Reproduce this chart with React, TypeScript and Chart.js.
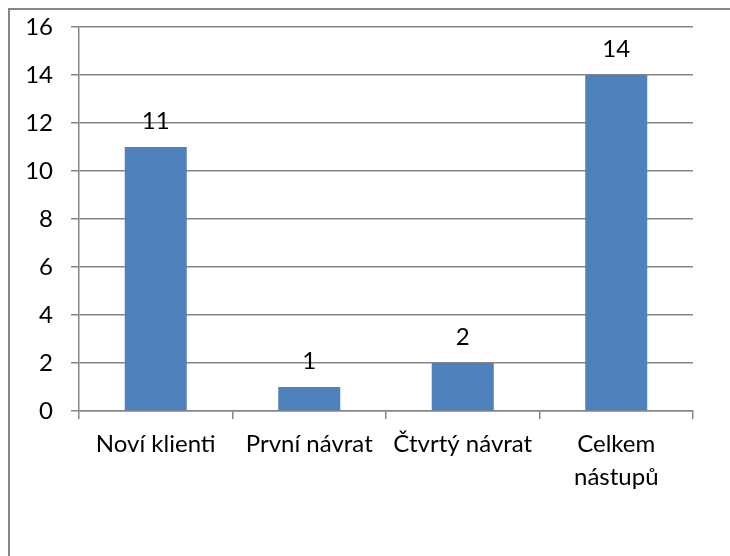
import React, { useEffect, useRef } from "react";
import { Chart, registerables } from "chart.js";

Chart.register(...registerables);

const categories: (string | string[])[] = ["Noví klienti", "První návrat", "Čtvrtý návrat", ["Celkem", "nástupů"]];
const values: number[] = [11, 1, 2, 14];
const yMin = 0;
const yMax = 16;
const yStep = 2;

const FONT = "Lato, 'Open Sans', sans-serif";

const valueLabels = {
  id: "valueLabels",
  afterDatasetsDraw(chart: any) {
    const ctx = chart.ctx;
    const meta = chart.getDatasetMeta(0);
    ctx.save();
    ctx.fillStyle = "#000";
    ctx.font = `24px ${FONT}`;
    ctx.textAlign = "center";
    ctx.textBaseline = "middle";
    meta.data.forEach((bar: any, i: number) => {
      ctx.fillText(String(values[i]), bar.x, bar.y - 26);
    });
    ctx.restore();
  },
};

export default function App() {
  const ref = useRef<HTMLCanvasElement>(null);
  useEffect(() => {
    if (!ref.current) return;
    const chart = new Chart(ref.current, {
      type: "bar",
      data: {
        labels: categories,
        datasets: [
          {
            data: values,
            backgroundColor: "#4F81BD",
            borderWidth: 0,
            categoryPercentage: 1,
            barPercentage: 0.404,
          },
        ],
      },
      options: {
        animation: false,
        responsive: false,
        maintainAspectRatio: false,
        events: [],
        layout: { padding: { top: 17, right: 37, left: 0, bottom: 0 } },
        plugins: { legend: { display: false }, tooltip: { enabled: false } },
        scales: {
          x: {
            offset: true,
            afterFit: (s: any) => {
              s.height = 145;
              s.paddingLeft = 0;
              s.paddingRight = 0;
            },
            grid: {
              offset: true,
              drawOnChartArea: false,
              drawTicks: true,
              tickLength: 8,
              color: "#868686",
              lineWidth: 1.5,
            },
            border: { display: true, color: "#868686", width: 1.5 },
            ticks: {
              color: "#000",
              font: { family: FONT, size: 24, lineHeight: 1.38 },
              padding: 9,
              maxRotation: 0,
              autoSkip: false,
            },
          },
          y: {
            min: yMin,
            max: yMax,
            afterFit: (s: any) => {
              s.width = 69;
              s.paddingTop = 0;
              s.paddingBottom = 0;
            },
            grid: {
              color: "#868686",
              lineWidth: 1.5,
              drawTicks: true,
              tickLength: 8,
            },
            border: { display: true, color: "#868686", width: 1.5 },
            ticks: {
              stepSize: yStep,
              color: "#000",
              font: { family: FONT, size: 24 },
              padding: 18,
            },
          },
        },
      },
      plugins: [valueLabels],
    });
    return () => chart.destroy();
  }, []);
  return (
    <div
      style={{
        position: "fixed",
        left: 8,
        top: 8,
        width: 720,
        height: 546,
        borderLeft: "2px solid #868686",
        borderTop: "2px solid #868686",
        background: "#fff",
      }}
    >
      <canvas ref={ref} width={720} height={546} style={{ display: "block", width: 720, height: 546 }} />
    </div>
  );
}
